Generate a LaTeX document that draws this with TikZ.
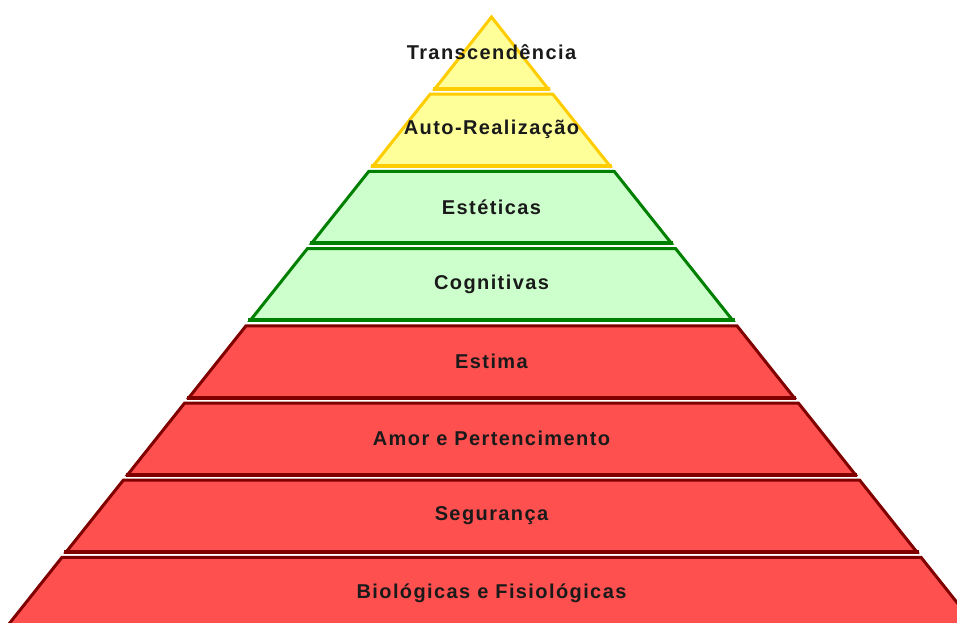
\documentclass[tikz,border=0pt]{standalone}
\usepackage{fontspec}
\newfontfamily\layerfont{Liberation Sans}[LetterSpace=7]

\definecolor{sunfill}{HTML}{FFFF99}
\definecolor{sunline}{HTML}{FFCC00}
\definecolor{leaffill}{HTML}{CCFFCC}
\definecolor{leafline}{HTML}{008000}
\definecolor{bloodfill}{HTML}{FF5050}
\definecolor{bloodline}{HTML}{800000}
\definecolor{ink}{HTML}{1A1A1A}

\tikzset{
	sun/.style={draw=sunline, fill=sunfill},
	leaf/.style={draw=leafline, fill=leaffill},
	blood/.style={draw=bloodline, fill=bloodfill},
	layerlabel/.style={text=ink, font=\layerfont\bfseries\fontsize{20}{22}\selectfont}
}

\begin{document}
\begin{tikzpicture}[x=1pt, y=-1pt, line width=3pt, line join=miter]
	\useasboundingbox (0,0) rectangle (957,622);
	\clip (0,0) rectangle (957,622);
	% apex at (491.5,17), sides with slope 0.795
	\draw[sun] (491.5,17) -- (548,88.7) -- (435,88.7) -- cycle;
	\draw[sunline, line width=4pt, line cap=rect] (435,88.7) -- (548,88.7);
	\node[layerlabel] (lbl0) at (491.5,52.5) {Transcendência};
	\foreach \i/\txt/\st/\edge in {1/Auto-Realização/sun/sunline, 2/Estéticas/leaf/leafline,
		3/Cognitivas/leaf/leafline, 4/Estima/blood/bloodline,
		5/Amor e Pertencimento/blood/bloodline,
		6/Segurança/blood/bloodline, 7/Biológicas e Fisiológicas/blood/bloodline}
	{
		\pgfmathsetmacro{\ytop}{17+77.2*\i}
		\pgfmathsetmacro{\ybot}{\ytop+71.7}
		\pgfmathsetmacro{\wtop}{0.795*(\ytop-17)}
		\pgfmathsetmacro{\wbot}{0.795*(\ybot-17)}
		\draw[\st] (491.5-\wtop,\ytop) -- (491.5+\wtop,\ytop)
			-- (491.5+\wbot,\ybot) -- (491.5-\wbot,\ybot) -- cycle;
		% heavier base line under each layer
		\draw[\edge, line width=4pt, line cap=rect] (491.5-\wbot,\ybot) -- (491.5+\wbot,\ybot);
		\node[layerlabel] (lbl\i) at (491.5,\ytop+35.5) {\txt};
	};
\end{tikzpicture}
\end{document}
